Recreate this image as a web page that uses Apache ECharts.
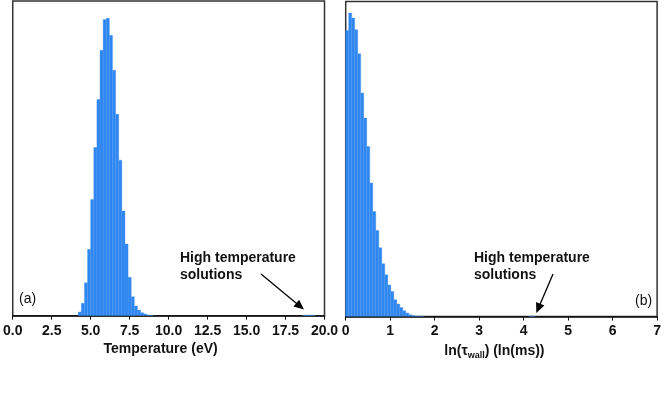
<!DOCTYPE html>
<html>
<head>
<meta charset="utf-8">
<script src="https://cdn.jsdelivr.net/npm/echarts@6/dist/echarts.min.js"></script>
<style>html,body{margin:0;padding:0;background:#fff}#c{width:664px;height:394px}</style>
</head>
<body>
<div id="c"></div>
<script>
// ---- Data (histogram counts, arbitrary units) ----
const leftBinStart = 4.2;
const leftBinWidth = 0.2;
const leftCounts = [3.7, 12.4, 33, 66.4, 116.4, 168.4, 216.4, 265.7, 296.4, 297.7, 280.7, 245.7, 201.7, 155.7, 104.7, 71.7, 38.4, 19, 9.7, 5.7, 3, 1.7, 0.8, 0.4];
const leftTailStarts = [18.6, 18.8, 19.0, 19.2];
const leftTailCounts = [0.5, 0.7, 0.6, 0.4];

const rightBinStart = 0;
const rightBinWidth = 0.0676;
const rightCounts = [286, 303.4, 298.4, 286.7, 262.7, 223.4, 198.4, 170, 133.4, 105, 86, 68.7, 52.7, 41.7, 31.4, 25, 16.7, 12.4, 9, 5.7, 3.4, 1.7, 0.9, 0.5, 0.3, 0.2];
const rightTailStarts = [4.12, 4.19];
const rightTailCounts = [0.4, 0.5];

const leftTicks = ['0.0','2.5','5.0','7.5','10.0','12.5','15.0','17.5','20.0'];
const rightTicks = ['0','1','2','3','4','5','6','7'];

// ---- Build histogram tables ----
function bins(start, width, counts) {
  return counts.map((c, i) => [start + i * width, start + (i + 1) * width, c]);
}
function tailBins(starts, width, counts) {
  return counts.map((c, i) => [starts[i], starts[i] + width, c]);
}
const leftData = bins(leftBinStart, leftBinWidth, leftCounts).concat(tailBins(leftTailStarts, leftBinWidth, leftTailCounts));
const rightData = bins(rightBinStart, rightBinWidth, rightCounts).concat(tailBins(rightTailStarts, rightBinWidth, rightTailCounts));

const BAR = '#2e86f0';
const FONT = '"Liberation Sans", Arial, Helvetica, sans-serif';

function renderBar(params, api) {
  const p0 = api.coord([api.value(0), 0]);
  const p1 = api.coord([api.value(1), api.value(2)]);
  return {
    type: 'rect',
    shape: { x: p0[0], y: p1[1], width: p1[0] - p0[0], height: p0[1] - p1[1] },
    style: { fill: BAR, stroke: '#4f97f3', lineWidth: 0.4 }
  };
}

const chart = echarts.init(document.getElementById('c'), null, { renderer: 'canvas' });

function xAxisCommon(min, max, interval, fmt) {
  return {
    type: 'value', min: min, max: max, interval: interval,
    axisLine: { show: true, onZero: false, lineStyle: { color: '#111', width: 1.5 } },
    axisTick: { show: true, length: 4, lineStyle: { color: '#111', width: 1 } },
    axisLabel: { color: '#111', fontFamily: FONT, fontWeight: 'bold', fontSize: 14, margin: 8, formatter: fmt, showMaxLabel: true, showMinLabel: true },
    splitLine: { show: false },
    nameLocation: 'middle',
    nameGap: 26,
    nameTextStyle: { color: '#111', fontFamily: FONT, fontWeight: 'bold', fontSize: 14 }
  };
}

const lx = xAxisCommon(0, 20, 2.5, (v) => leftTicks[Math.round(v / 2.5)]);
lx.name = 'Temperature (eV)';
lx.nameTextStyle.padding = [0, 16, 0, 0];
lx.gridIndex = 0;

const rx = xAxisCommon(0, 7, 1, (v) => rightTicks[Math.round(v)]);
rx.name = 'ln(τ{sub|wall}) (ln(ms))';
rx.nameTextStyle.padding = [0, 14, 0, 0];
rx.nameTextStyle.rich = { sub: { fontFamily: FONT, fontWeight: 'bold', fontSize: 9, color: '#111', padding: [9, 0, 0, 0] } };
rx.gridIndex = 1;

function arrow(x1, y1, x2, y2) {
  const dx = x2 - x1, dy = y2 - y1, L = Math.hypot(dx, dy);
  const ux = dx / L, uy = dy / L, hl = 10, hw = 4.5;
  const bx = x2 - ux * hl, by = y2 - uy * hl;
  return [
    { type: 'line', shape: { x1: x1, y1: y1, x2: bx + ux * 2, y2: by + uy * 2 }, style: { stroke: '#000', lineWidth: 1.3 } },
    { type: 'polygon', shape: { points: [[x2, y2], [bx - uy * hw, by + ux * hw], [bx + uy * hw, by - ux * hw]] }, style: { fill: '#000' } }
  ];
}

const textStyleBold = { fontFamily: FONT, fontWeight: 'bold', fontSize: 14, fill: '#111', lineHeight: 17 };

chart.setOption({
  animation: false,
  backgroundColor: '#fff',
  grid: [
    { left: 10, right: 339.5, top: 1, bottom: 78.3, show: true, borderColor: '#333', borderWidth: 1.5, backgroundColor: 'transparent' },
    { left: 345.7, right: 4, top: 1.5, bottom: 77.5, show: true, borderColor: '#333', borderWidth: 1.5, backgroundColor: 'transparent' }
  ],
  xAxis: [lx, rx],
  yAxis: [
    { type: 'value', gridIndex: 0, min: 0, max: 315, axisLine: { show: false }, axisTick: { show: false }, axisLabel: { show: false }, splitLine: { show: false } },
    { type: 'value', gridIndex: 1, min: 0, max: 315, axisLine: { show: false }, axisTick: { show: false }, axisLabel: { show: false }, splitLine: { show: false } }
  ],
  series: [
    { type: 'custom', xAxisIndex: 0, yAxisIndex: 0, renderItem: renderBar, encode: { x: [0, 1], y: 2 }, data: leftData, clip: true },
    { type: 'custom', xAxisIndex: 1, yAxisIndex: 1, renderItem: renderBar, encode: { x: [0, 1], y: 2 }, data: rightData, clip: true }
  ],
  graphic: [
    { type: 'text', left: 19, top: 292, style: { text: '(a)', fontFamily: FONT, fontSize: 14, fill: '#111' } },
    { type: 'text', left: 635, top: 294, style: { text: '(b)', fontFamily: FONT, fontSize: 14, fill: '#111' } },
    { type: 'text', left: 180, top: 250, style: Object.assign({ text: 'High temperature\nsolutions' }, textStyleBold) },
    { type: 'text', left: 474, top: 250, style: Object.assign({ text: 'High temperature\nsolutions' }, textStyleBold) }
  ].concat(arrow(261, 274, 304, 309.5)).concat(arrow(553, 274, 536.3, 313))
});
</script>
</body>
</html>
